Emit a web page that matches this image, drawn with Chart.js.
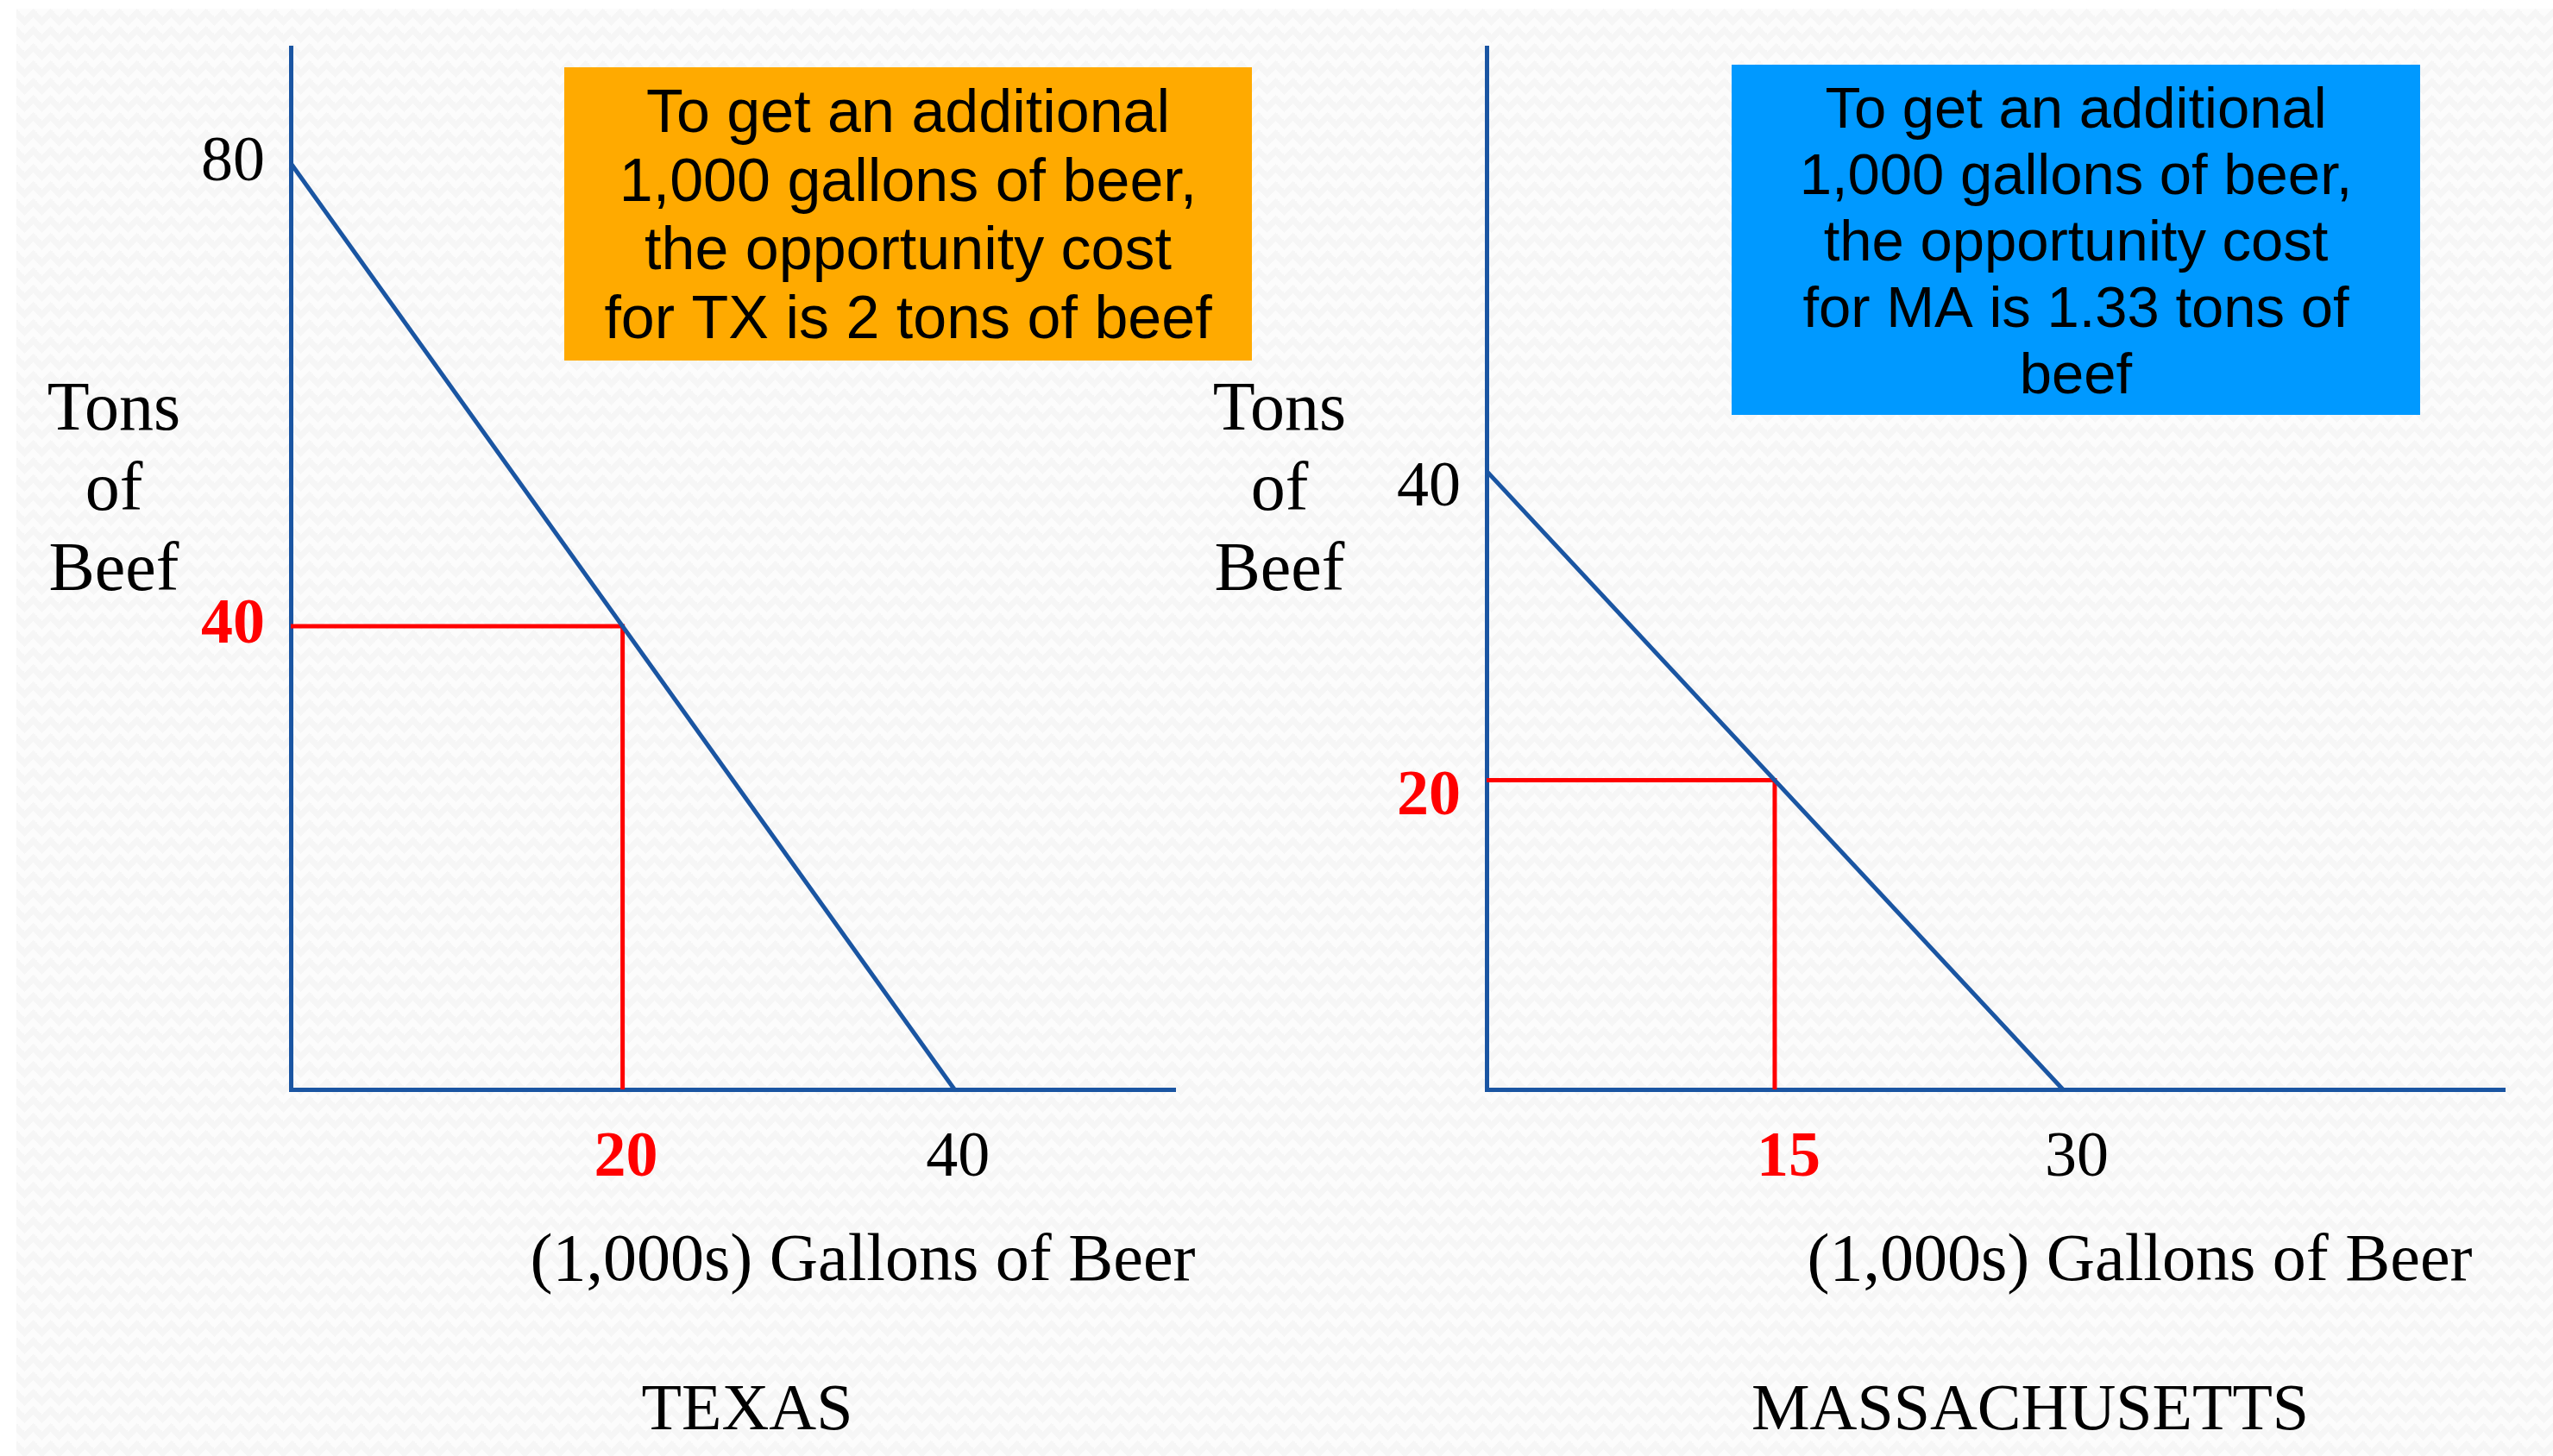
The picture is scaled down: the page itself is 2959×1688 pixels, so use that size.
<!DOCTYPE html>
<html>
<head>
<meta charset="utf-8">
<script src="https://cdn.jsdelivr.net/npm/chart.js@4.4.1/dist/chart.umd.min.js"></script>
<style>
  html, body { margin: 0; padding: 0; background: #fff; overflow: hidden; }
  #page { position: relative; width: 2959px; height: 1688px; overflow: hidden; background: #fff; }
  #paper {
    position: absolute; left: 19px; top: 10px; right: 0; bottom: 0;
    background-color: #f6f6f6;
    background-image:
      linear-gradient(135deg, #fcfcfc 25%, transparent 25%),
      linear-gradient(225deg, #fcfcfc 25%, transparent 25%),
      linear-gradient(45deg, #fcfcfc 25%, transparent 25%),
      linear-gradient(315deg, #fcfcfc 25%, #f6f6f6 25%);
    background-position: 10px 0, 10px 0, 0 0, 0 0;
    background-size: 20px 20px;
  }
  canvas { position: absolute; left: 0; top: 0; }
</style>
</head>
<body>
<div id="page">
  <div id="paper"></div>
  <canvas id="texas" width="2959" height="1688"></canvas>
  <canvas id="mass" width="2959" height="1688"></canvas>
</div>
<script>
// Texas PPF: beer in 1,000s of gallons, beef in tons
const texasBeer = [0, 40];
const texasBeef = [80, 0];
const texasChoice = [20, 40];   // [beer, beef]
const texasXTicks = [20, 40];
const texasYTicks = [40, 80];
const texasNote = ['To get an additional', '1,000 gallons of beer,', 'the opportunity cost', 'for TX is 2 tons of beef'];

// Massachusetts PPF
const massBeer = [0, 30];
const massBeef = [40, 0];
const massChoice = [15, 20];
const massXTicks = [15, 30];
const massYTicks = [20, 40];
const massNote = ['To get an additional', '1,000 gallons of beer,', 'the opportunity cost', 'for MA is 1.33 tons of', 'beef'];

const yTitle = ['Tons', 'of', 'Beef'];
const xTitle = '(1,000s) Gallons of Beer';

const W = 2959, H = 1688;
const BLUE = '#1a55a2';
const RED = '#ff0000';
const SERIF = '"Liberation Serif", "DejaVu Serif", serif';
const SANS = '"Liberation Sans", Arial, sans-serif';

// draws the horizontal axis titles, panel name and the note box
function textLayer(p) {
  return {
    id: 'textLayer',
    afterDraw(chart) {
      const c = chart.ctx;
      c.save();
      c.textAlign = 'center';
      c.textBaseline = 'alphabetic';
      c.fillStyle = '#000';
      c.font = '80px ' + SERIF;
      yTitle.forEach((t, i) => c.fillText(t, p.yTitleX, p.yTitleY + i * 93));
      c.font = '78px ' + SERIF;
      c.fillText(xTitle, p.xTitleX, 1484);
      c.font = '76px ' + SERIF;
      c.fillText(p.name, p.nameX, 1657);

      const n = p.box;
      c.fillStyle = p.boxColor;
      c.fillRect(n[0], n[1], n[2] - n[0], n[3] - n[1]);
      c.fillStyle = '#000';
      c.font = p.noteSize + 'px ' + SANS;
      p.note.forEach((t, i) => c.fillText(t, (n[0] + n[2]) / 2, p.noteY + i * p.noteStep));
      c.restore();
    }
  };
}

function makePanel(id, p) {
  const ctx = document.getElementById(id).getContext('2d');
  // red labels mark the chosen point on each axis
  const hi = (c, axis) => !!c.tick && c.tick.value === p.choice[axis];
  const noPad = s => { s.paddingTop = 0; s.paddingBottom = 0; s.paddingLeft = 0; s.paddingRight = 0; };
  return new Chart(ctx, {
    type: 'scatter',
    data: {
      datasets: [
        {
          data: p.beer.map((b, i) => ({ x: b, y: p.beef[i] })),
          showLine: true, borderColor: BLUE, borderWidth: 5, pointRadius: 0
        },
        {
          data: [
            { x: 0, y: p.choice[1] },
            { x: p.choice[0], y: p.choice[1] },
            { x: p.choice[0], y: 0 }
          ],
          showLine: true, borderColor: RED, borderWidth: 5, pointRadius: 0
        }
      ]
    },
    options: {
      responsive: false,
      animation: false,
      events: [],
      layout: { padding: { left: 0, top: p.area[1], right: W - p.area[2], bottom: 0 } },
      plugins: { legend: { display: false }, tooltip: { enabled: false } },
      scales: {
        x: {
          type: 'linear', min: 0, max: p.xMax,
          grid: { display: false, drawTicks: false },
          border: { display: true, color: BLUE, width: 5 },
          afterBuildTicks: s => { s.ticks = p.xTicks.map(v => ({ value: v })); },
          afterFit: s => { s.height = H - p.area[3]; noPad(s); },
          ticks: {
            padding: 36,
            labelOffset: p.xShift,
            color: c => hi(c, 0) ? RED : '#000',
            font: c => ({ family: SERIF, size: 74, weight: hi(c, 0) ? 'bold' : 'normal' })
          }
        },
        y: {
          type: 'linear', min: 0, max: p.yMax,
          grid: { display: false, drawTicks: false },
          border: { display: true, color: BLUE, width: 5 },
          afterBuildTicks: s => { s.ticks = p.yTicks.map(v => ({ value: v })); },
          afterFit: s => { s.width = p.area[0]; noPad(s); },
          ticks: {
            padding: 30,
            labelOffset: p.yShift,
            color: c => hi(c, 1) ? RED : '#000',
            font: c => ({ family: SERIF, size: 74, weight: hi(c, 1) ? 'bold' : 'normal' })
          }
        }
      }
    },
    plugins: [textLayer(p)]
  });
}

makePanel('texas', {
  beer: texasBeer, beef: texasBeef, choice: texasChoice,
  xTicks: texasXTicks, yTicks: texasYTicks,
  area: [337, 55, 1362, 1263], xMax: 53.3, yMax: 90, xShift: 4, yShift: 0,
  yTitleX: 132, yTitleY: 498, xTitleX: 1000, name: 'TEXAS', nameX: 866,
  box: [654, 78, 1451, 418], boxColor: '#ffaa00', note: texasNote,
  noteSize: 70, noteY: 153, noteStep: 79.5
});

makePanel('mass', {
  beer: massBeer, beef: massBeef, choice: massChoice,
  xTicks: massXTicks, yTicks: massYTicks,
  area: [1723, 55, 2903, 1263], xMax: 53, yMax: 67.4, xShift: 16, yShift: 20,
  yTitleX: 1483, yTitleY: 498, xTitleX: 2480, name: 'MASSACHUSETTS', nameX: 2353,
  box: [2007, 75, 2805, 481], boxColor: '#0099ff', note: massNote,
  noteSize: 67, noteY: 148, noteStep: 77
});
</script>
</body>
</html>
